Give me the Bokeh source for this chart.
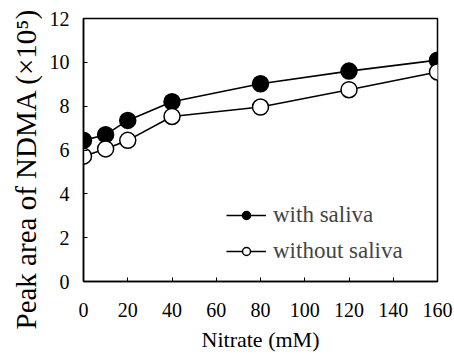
from bokeh.plotting import figure
from bokeh.models import Range1d, Legend, LegendItem, FixedTicker, Title
from bokeh.embed import file_html
from bokeh.resources import INLINE

nitrate = [0, 10, 20, 40, 80, 120, 160]
with_saliva = [6.44, 6.7, 7.35, 8.2, 9.02, 9.6, 10.1]
without_saliva = [5.72, 6.05, 6.44, 7.53, 7.96, 8.75, 9.56]
x_ticks = [0, 20, 40, 60, 80, 100, 120, 140, 160]
y_ticks = [0, 2, 4, 6, 8, 10, 12]

FONT = "Liberation Serif"

p = figure(width=454, height=356, output_backend="svg", toolbar_location=None,
           x_range=Range1d(0, 160), y_range=Range1d(0, 12),
           min_border_left=83, min_border_right=17, min_border_top=18, min_border_bottom=75)
p.grid.visible = False
p.outline_line_color = "black"
p.outline_line_width = 1.5
p.background_fill_color = "white"
p.border_fill_color = "white"

for ax in (p.xaxis[0], p.yaxis[0]):
    ax.axis_line_width = 1.5
    ax.major_tick_in = 4
    ax.major_tick_out = 0
    ax.minor_tick_in = 0
    ax.minor_tick_out = 0
    ax.major_label_text_font = FONT
    ax.major_label_text_font_size = "20px"
    ax.major_label_text_color = "black"
    ax.axis_label_text_font = FONT
    ax.axis_label_text_font_style = "normal"
    ax.axis_label_text_color = "black"

p.xaxis[0].ticker = FixedTicker(ticks=x_ticks)
p.yaxis[0].ticker = FixedTicker(ticks=y_ticks)
p.xaxis[0].major_label_standoff = 21
p.yaxis[0].major_label_standoff = 14
p.xaxis[0].axis_label = "Nitrate (mM)"
p.xaxis[0].axis_label_text_font_size = "22px"
p.xaxis[0].axis_label_standoff = 7

# y title as a side title, starting below the frame bottom as in the reference
ytitle = Title(text="Peak area of NDMA (×10⁵)", align="left", offset=-48,
               text_font=FONT, text_font_size="29px", text_font_style="normal",
               text_color="black", standoff=10)
p.add_layout(ytitle, "left")

l1 = p.line(nitrate, with_saliva, line_color="black", line_width=1.6)
c1 = p.scatter(nitrate, with_saliva, marker="circle", size=16, fill_color="black", line_color="black", line_width=1.5)
l2 = p.line(nitrate, without_saliva, line_color="black", line_width=1.6)
c2 = p.scatter(nitrate, without_saliva, marker="circle", size=16, fill_color="white", line_color="black", line_width=1.5)

legend = Legend(items=[LegendItem(label="with saliva", renderers=[l1, c1]),
                       LegendItem(label="without saliva", renderers=[l2, c2])],
                location=(143, 17), border_line_color=None, background_fill_alpha=0,
                label_text_font=FONT, label_text_font_size="23px", glyph_width=40,
                glyph_height=20, spacing=10, label_standoff=7)
p.add_layout(legend)

open("out.html", "w").write(file_html(p, INLINE))
